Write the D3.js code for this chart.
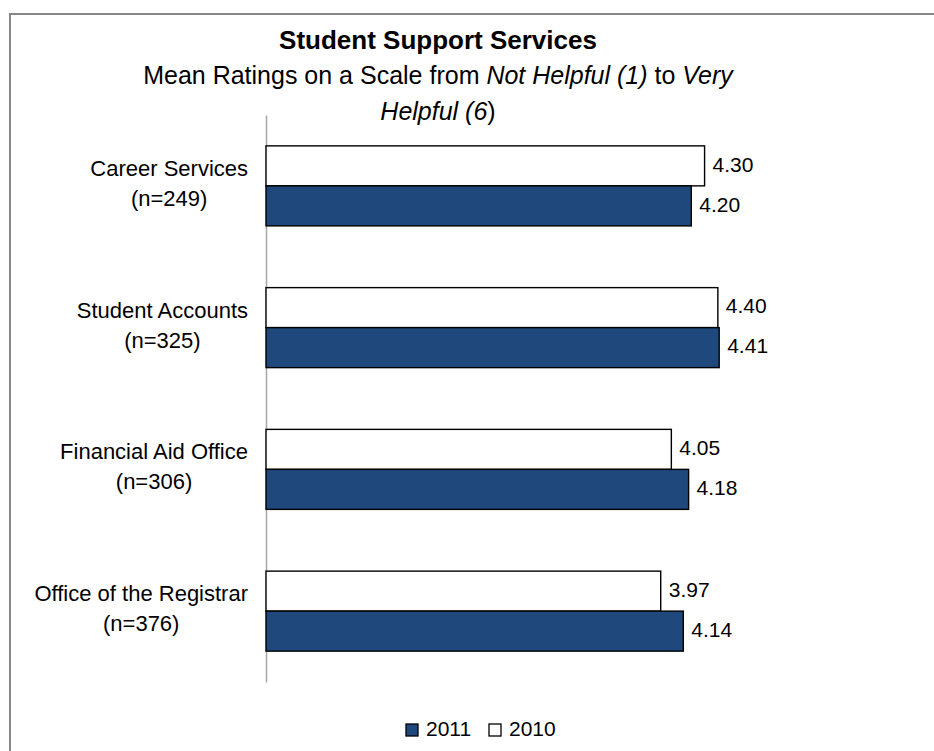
<!DOCTYPE html>
<html>
<head>
<meta charset="utf-8">
<script src="https://cdn.jsdelivr.net/npm/d3@7"></script>
<style>
  html, body { margin: 0; padding: 0; background: #fff; }
  svg { display: block; font-family: "Liberation Sans", Arial, sans-serif; }
</style>
</head>
<body>
<svg id="chart" width="934" height="751"></svg>
<script>
// Mean helpfulness ratings for student support services
const categories = ["Career Services", "Student Accounts", "Financial Aid Office", "Office of the Registrar"];
const sampleSizes = ["(n=249)", "(n=325)", "(n=306)", "(n=376)"];
const series = ["2010", "2011"];
const values2010 = [4.30, 4.40, 4.05, 3.97];
const values2011 = [4.20, 4.41, 4.18, 4.14];
const legendOrder = ["2011", "2010"];
const scaleDomain = [1, 5];

const colors = { "2011": "#1F497D", "2010": "#FFFFFF" };
const valuesBySeries = { "2010": values2010, "2011": values2011 };

const svg = d3.select("#chart");

// outer chart frame
svg.append("rect")
  .attr("x", 10).attr("y", 14)
  .attr("width", 960).attr("height", 800)
  .attr("fill", "#fff")
  .attr("stroke", "#868686")
  .attr("stroke-width", 2);

// titles
const title = svg.append("g").attr("text-anchor", "middle").attr("fill", "#000");
title.append("text")
  .attr("x", 438).attr("y", 49)
  .attr("font-size", 26).attr("font-weight", "bold")
  .text("Student Support Services");

const sub1 = title.append("text").attr("x", 438).attr("y", 84).attr("font-size", 25);
sub1.append("tspan").text("Mean Ratings on a Scale from ");
sub1.append("tspan").attr("font-style", "italic").text("Not Helpful (1)");
sub1.append("tspan").text(" to ");
sub1.append("tspan").attr("font-style", "italic").text("Very");

const sub2 = title.append("text").attr("x", 438).attr("y", 120).attr("font-size", 25);
sub2.append("tspan").attr("font-style", "italic").text("Helpful (6");
sub2.append("tspan").text(")");

// scales
const x = d3.scaleLinear().domain(scaleDomain).range([266, 797.6]);
const y0 = d3.scaleBand().domain(categories).range([115, 682]).paddingInner(0).paddingOuter(0);
const y1 = d3.scaleBand().domain(series).range([0, y0.bandwidth()]).paddingInner(0).paddingOuter(0.772);

// category axis line
const axis = svg.append("g")
  .attr("transform", `translate(${x(scaleDomain[0])},0)`)
  .call(d3.axisLeft(y0).tickSize(0).tickSizeOuter(0).tickFormat(""));
axis.select(".domain").attr("stroke", "#a6a6a6").attr("stroke-width", 1.5);

// bars
const rows = categories.map((c, i) => ({ category: c, n: sampleSizes[i] }));
const groups = svg.append("g").selectAll("g")
  .data(rows)
  .join("g")
  .attr("transform", d => `translate(0,${y0(d.category)})`);

groups.selectAll("rect")
  .data((d, i) => series.map(s => ({ s, v: valuesBySeries[s][i] })))
  .join("rect")
  .attr("x", x(scaleDomain[0]))
  .attr("y", d => y1(d.s))
  .attr("width", d => x(d.v) - x(scaleDomain[0]))
  .attr("height", y1.bandwidth())
  .attr("fill", d => colors[d.s])
  .attr("stroke", "#000")
  .attr("stroke-width", 1.4);

// value labels
groups.selectAll("text.value")
  .data((d, i) => series.map(s => ({ s, v: valuesBySeries[s][i] })))
  .join("text")
  .attr("class", "value")
  .attr("x", d => x(d.v) + 8)
  .attr("y", d => y1(d.s) + y1.bandwidth() / 2)
  .attr("dy", "0.27em")
  .attr("font-size", 21)
  .attr("fill", "#000")
  .text(d => d.v.toFixed(2));

// category labels: two centred lines, block right-aligned to the axis
const labelRight = 248;
groups.each(function(d) {
  const g = d3.select(this);
  const cy = y0.bandwidth() / 2;
  const t1 = g.append("text").attr("font-size", 22).attr("fill", "#000")
    .attr("text-anchor", "middle").attr("y", cy - 10).text(d.category);
  const t2 = g.append("text").attr("font-size", 22).attr("fill", "#000")
    .attr("text-anchor", "middle").attr("y", cy + 20).text(d.n);
  const w = Math.max(t1.node().getComputedTextLength(), t2.node().getComputedTextLength());
  t1.attr("x", labelRight - w / 2);
  t2.attr("x", labelRight - w / 2);
});

// legend
const legend = svg.append("g").attr("transform", "translate(406,724)");
const items = [
  { s: legendOrder[0], dx: 0 },
  { s: legendOrder[1], dx: 83 }
];
const li = legend.selectAll("g").data(items).join("g")
  .attr("transform", d => `translate(${d.dx},0)`);
li.append("rect")
  .attr("width", 12).attr("height", 12)
  .attr("fill", d => colors[d.s])
  .attr("stroke", "#000").attr("stroke-width", 1.3);
li.append("text")
  .attr("x", 20).attr("y", 12)
  .attr("font-size", 21).attr("fill", "#000")
  .text(d => d.s);
</script>
</body>
</html>
